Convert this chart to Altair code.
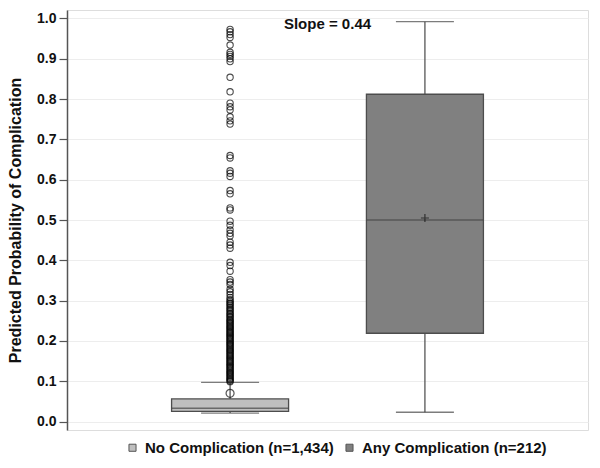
import altair as alt
import pandas as pd

# ---- data ----
groups = ["No Complication (n=1,434)", "Any Complication (n=212)"]
box_fill = ["#BFBFBF", "#808080"]
whisker_low = [0.021, 0.023]
q1 = [0.025, 0.219]
median = [0.033, 0.500]
q3 = [0.056, 0.812]
whisker_high = [0.097, 0.992]
mean = [0.070, 0.505]
mean_symbol = ["circle", "M-1,0H1M0,-1V1"]

outliers_no_complication = [
    0.973, 0.967, 0.960, 0.953, 0.934, 0.916, 0.911, 0.906, 0.900, 0.893,
    0.854, 0.818, 0.790, 0.781, 0.773, 0.756, 0.746, 0.738, 0.660, 0.654,
    0.622, 0.616, 0.608, 0.573, 0.565, 0.530, 0.525, 0.497, 0.487, 0.475,
    0.467, 0.460, 0.445, 0.438, 0.430, 0.395, 0.387, 0.373, 0.352, 0.346,
    0.340, 0.328, 0.322, 0.315, 0.308, 0.302,
    0.298, 0.294, 0.291, 0.287, 0.283, 0.279, 0.276, 0.272, 0.268, 0.265,
    0.261, 0.258, 0.254, 0.251, 0.248, 0.245, 0.242, 0.239, 0.236, 0.233,
    0.230, 0.227, 0.224, 0.221, 0.218, 0.215, 0.212, 0.209, 0.206, 0.203,
    0.200, 0.197, 0.194, 0.191, 0.188, 0.185, 0.182, 0.179, 0.176, 0.173,
    0.170, 0.167, 0.164, 0.161, 0.158, 0.155, 0.152, 0.149, 0.146, 0.143,
    0.140, 0.137, 0.134, 0.131, 0.128, 0.125, 0.122, 0.119, 0.116, 0.113,
    0.110, 0.107, 0.104, 0.101, 0.099,
]
y_ticks = [0.0, 0.1, 0.2, 0.3, 0.4, 0.5, 0.6, 0.7, 0.8, 0.9, 1.0]
y_title = "Predicted Probability of Complication"
slope_label = "Slope = 0.44"

FONT = "Liberation Sans"
W, H = 521, 420

box_df = pd.DataFrame({
    "group": groups, "lo": whisker_low, "q1": q1, "med": median,
    "q3": q3, "hi": whisker_high, "mean": mean, "mean_symbol": mean_symbol,
})
out_df = pd.DataFrame({"group": groups[0], "value": outliers_no_complication})

xenc = alt.X("group:N", scale=alt.Scale(type="point", domain=groups, padding=0.837), axis=None)
yscale = alt.Scale(domain=[-0.021, 1.021], nice=False, zero=False)
yaxis = alt.Axis(
    values=y_ticks, format=".1f", title=y_title, grid=True,
    gridColor="#EDEDED", gridWidth=1, tickColor="#555", tickSize=8, tickWidth=1.2,
    domainColor="#555", domainWidth=1.5, labelPadding=3,
    labelFont=FONT, labelFontSize=14, labelFontWeight="bold", labelColor="#111",
    titleFont=FONT, titleFontSize=16, titleFontWeight="bold", titleColor="#111",
    titlePadding=13,
)


def Y(field):
    return alt.Y(field, scale=yscale, axis=yaxis)


base = alt.Chart(box_df).encode(x=xenc)

whisk_lo = base.mark_rule(color="#555", strokeWidth=1.3).encode(y=Y("lo:Q"), y2="q1:Q")
whisk_hi = base.mark_rule(color="#555", strokeWidth=1.3).encode(y=Y("q3:Q"), y2="hi:Q")
boxes = base.mark_bar(size=117, stroke="#4d4d4d", strokeWidth=1.3).encode(
    y=Y("q1:Q"), y2="q3:Q",
    color=alt.Color(
        "group:N", scale=alt.Scale(domain=groups, range=box_fill),
        legend=alt.Legend(
            title=None, orient="none", direction="horizontal", legendX=58, legendY=430,
            symbolType="square", symbolSize=50, symbolStrokeColor="#555", symbolStrokeWidth=1,
            labelFont=FONT, labelFontSize=15, labelFontWeight="bold", labelColor="#111",
            labelOffset=5, columnPadding=8, padding=0, labelLimit=400,
        ),
    ),
)
medians = base.mark_tick(size=117, thickness=1.3, color="#444").encode(y=Y("med:Q"))
caps_lo = base.mark_tick(size=58, thickness=1.3, color="#444").encode(y=Y("lo:Q"))
caps_hi = base.mark_tick(size=58, thickness=1.3, color="#444").encode(y=Y("hi:Q"))
means = base.mark_point(filled=False, size=64, color="#111", strokeWidth=1.2).encode(
    y=Y("mean:Q"),
    shape=alt.Shape("mean_symbol:N", scale=None, legend=None),
)
outl = alt.Chart(out_df).mark_point(shape="circle", filled=False, size=40, color="black", strokeWidth=1.1).encode(
    x=xenc, y=Y("value:Q")
)

chart = alt.layer(whisk_lo, whisk_hi, boxes, medians, caps_lo, caps_hi, means, outl).properties(
    width=W, height=H,
    padding={"left": 59, "top": 2, "right": 4, "bottom": 30},
    autosize=alt.AutoSizeParams(type="none"),
    title=alt.TitleParams(
        text=slope_label, font=FONT, fontSize=15, fontWeight="bold", color="#111",
        anchor="middle", frame="group", orient="top", offset=-22,
    ),
).configure_view(stroke="#8A8A8A", strokeWidth=1.5).configure(background="white")

chart.save("out.html", embed_options={"renderer": "svg", "actions": False})
